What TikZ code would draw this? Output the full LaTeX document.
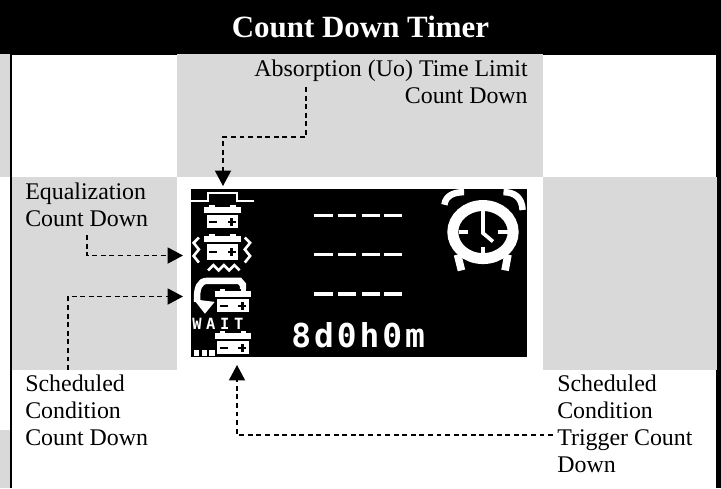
\documentclass[tikz,border=0pt]{standalone}
\usepackage{fontspec}
\usepackage{xcolor}
\usepackage{tikz}
\usetikzlibrary{arrows.meta, positioning}
\setmainfont{Liberation Serif}
\newfontfamily\lcdfont[LetterSpace=9]{DejaVu Sans Mono}
\newfontfamily\waitfont[LetterSpace=30]{DejaVu Sans Mono}
\definecolor{panelgray}{HTML}{D9D9D9}
\tikzset{
  panel/.style={fill=panelgray},
  callout/.style={font=\fontsize{17}{19.2}\selectfont, inner sep=0pt},
  pointer/.style={draw=black, line width=0.9pt, dash pattern=on 3.5pt off 2.6pt, -{Triangle[length=11pt,width=11.5pt]}},
  lcdline/.style={draw=white, line width=1.86pt},
  lcdthick/.style={draw=white, line width=4.6pt},
  lcdtick/.style={draw=white, line width=2.6pt}
}
\newcommand{\lcdbatt}[3]{%
  \begin{scope}[shift={(#1,#2)}]
    \fill[white] (2,0) rectangle (4,1);
    \fill[white] (10,0) rectangle (12,1);
    \fill[white] (0,1) rectangle (14,3);
    \fill[white] (1,4) rectangle (13,{4+#3});
    \fill[black] (2,{3.5+#3/2}) rectangle (5,{4.5+#3/2});
    \fill[black] (9,{3.5+#3/2}) rectangle (12,{4.5+#3/2});
    \fill[black] (10,{2.5+#3/2}) rectangle (11,{5.5+#3/2});
  \end{scope}%
}
\begin{document}
\begin{tikzpicture}[x=0.025cm,y=-0.025cm]
\useasboundingbox (0,0) rectangle (721,488);
\fill[black] (0,0) rectangle (721,55);
\fill[panel] (0,54) rectangle (10,177);
\fill[panel] (0,430) rectangle (10,488);
\fill[black] (10,55) rectangle (12,488);
\fill[black] (716,55) rectangle (721,488);
\fill[panel] (177,54) rectangle (543,177);
\fill[panel] (12,177) rectangle (177,370);
\fill[panel] (543,177) rectangle (717,370);
\fill[black] (191,189) rectangle (527,357);

\begin{scope}[shift={(191,189)},x=0.065625cm,y=-0.065625cm]
\draw[lcdline] (0,4.5) -- (6.5,4.5) -- (6.5,1.5) -- (17.5,1.5) -- (17.5,4.5) -- (24,4.5);
\lcdbatt{5}{6}{5}
\lcdbatt{5}{17}{6}
\lcdbatt{9}{38}{5}
\lcdbatt{9}{54}{5}
\draw[lcdline] (3,18.5) -- (1,20.5) -- (3,23) -- (1,25.5) -- (3,28);
\draw[lcdline] (20.5,18.5) -- (22.5,20.5) -- (20.5,23) -- (22.5,25.5) -- (20.5,28);
\draw[lcdline] (6.5,31) -- (8.5,29) -- (10.5,31) -- (12.5,29) -- (14.5,31) -- (16.5,29) -- (18.5,31);
\draw[lcdthick] (19.8,38) -- (19.8,36.5) -- (18.5,35) -- (6,35) .. controls (3.2,35) and (2.3,38) .. (2.3,41) -- (2.3,43);
\fill[white] (1,42) -- (9,43) -- (5.3,47.5) -- cycle;
\foreach \dotx in {1,4,7} {
  \fill[white] (\dotx,61.3) rectangle ++(2.2,2.2);
}
\foreach \rowy in {9.4,24.4,39.4} {
  \foreach \dashx in {47,56,65,73.5} {
    \fill[white] (\dashx,\rowy) rectangle ++(7,1.2);
  }
}
\draw[lcdthick, line width=7.8pt] (111.2,16.4) ellipse (11.5 and 10.1);
\draw[lcdthick] (96.5,6) .. controls (97,2.5) and (100,1.2) .. (104,1.2);
\draw[lcdthick] (119,1.2) .. controls (123,1.2) and (126,3) .. (126.3,8);
\draw[lcdthick, line width=5.4pt] (101.5,25) -- (103,31);
\draw[lcdthick, line width=5.4pt] (120.7,25) -- (119.6,31);
\draw[lcdtick] (102,16.4) -- (105.5,16.4);
\draw[lcdtick] (117,16.4) -- (121,16.4);
\draw[lcdtick] (111.2,8.5) -- (111.2,11);
\draw[lcdtick] (111.2,22) -- (111.2,25);
\draw[lcdtick] (111.2,10.5) -- (111.2,16.8) -- (115,20);
\end{scope}

\node[font=\fontsize{22}{24}\selectfont\bfseries, text=white, inner sep=0pt] (title) at (360.5,27) {Count Down Timer};
\node[callout, anchor=north east, align=right] (uoLabel) at (528,59.5) {Absorption (Uo) Time Limit\\Count Down};
\node[callout, anchor=north west, align=left] (eqLabel) at (25,182.7) {Equalization\\Count Down};
\node[callout, anchor=north west, align=left] (schedLabel) at (25,374.7) {Scheduled\\Condition\\Count Down};
\node[callout, anchor=north west, align=left] (trigLabel) at (557,374.7) {Scheduled\\Condition\\Trigger Count\\Down};
\node[font=\fontsize{23.4}{25}\selectfont\lcdfont\bfseries, text=white, inner sep=0pt, anchor=base west] (timeText) at (291,347) {8d0h0m};
\node[font=\fontsize{11}{13}\selectfont\waitfont\bfseries, text=white, inner sep=0pt, anchor=base west] (waitText) at (192,329) {WAIT};

\coordinate (uoStart) at (306,87);
\coordinate (uoBend) at (223,137);
\coordinate (uoTip) at (223,186);
\coordinate (eqStart) at (87,235);
\coordinate (eqTip) at (183,255.5);
\coordinate (schedStart) at (68,370);
\coordinate (schedTip) at (183,296.5);
\coordinate (trigStart) at (553,435);
\coordinate (trigTip) at (237,365);

\draw[pointer] (uoStart) |- (uoBend) -- (uoTip);
\draw[pointer] (eqStart) |- (eqTip);
\draw[pointer] (schedStart) |- (schedTip);
\draw[pointer] (trigStart) -| (trigTip);
\end{tikzpicture}
\end{document}
